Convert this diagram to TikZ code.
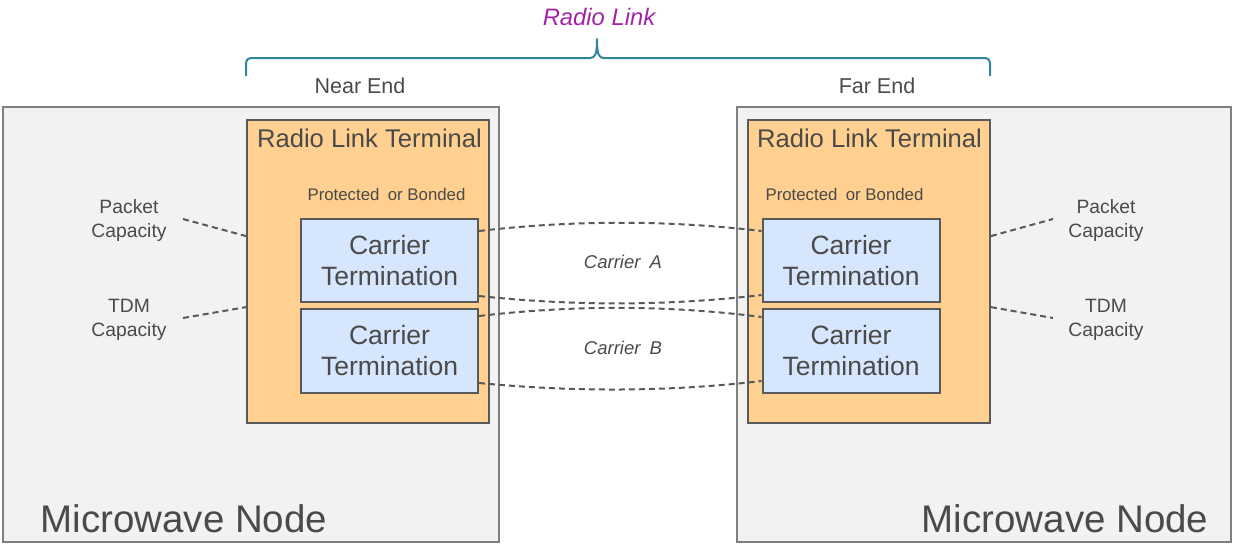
\documentclass[tikz,border=0pt]{standalone}
\usepackage{fontspec}
\setmainfont{Liberation Sans}
\usetikzlibrary{calc}
\definecolor{nodefill}{HTML}{F2F2F2}
\definecolor{nodeedge}{HTML}{7F7F7F}
\definecolor{edgec}{HTML}{595959}
\definecolor{rltfill}{HTML}{FFD08F}
\definecolor{ctfill}{HTML}{D6E6FD}
\definecolor{bracec}{HTML}{31859C}
\definecolor{linkc}{HTML}{A323A8}
\definecolor{txt}{HTML}{4A4A4A}
\definecolor{dashc}{HTML}{595959}

\tikzset{
  mwnode/.style={draw=nodeedge, fill=nodefill, line width=1.8pt, inner sep=0pt,
                 minimum width=#1, minimum height=435pt},
  rltbox/.style={draw=edgec, fill=rltfill, line width=1.8pt, inner sep=0pt,
                 minimum width=242pt, minimum height=303pt},
  ctbox/.style={draw=edgec, fill=ctfill, line width=2pt, inner sep=0pt,
                minimum width=177pt, minimum height=#1, align=center, text=txt,
                font=\fontsize{26.5}{31}\selectfont},
  conn/.style={draw=dashc, line width=2pt, dash pattern=on 6pt off 4pt},
  caplbl/.style={text=txt, align=center, font=\fontsize{19.3}{24}\selectfont},
  carrier/.style={text=txt, font=\fontsize{18.5}{22}\selectfont\itshape, anchor=base},
  endlbl/.style={text=txt, font=\fontsize{21.5}{25}\selectfont, anchor=base},
  rltlbl/.style={text=txt, font=\fontsize{25.6}{30}\selectfont, anchor=base},
  pblbl/.style={text=txt, font=\fontsize{16.8}{20}\selectfont, anchor=base},
  mwlbl/.style={text=txt, font=\fontsize{38.5}{44}\selectfont},
  bracepath/.style={draw=bracec, line width=2pt, line join=round}
}

\begin{document}
\begin{tikzpicture}[x=1pt, y=-1pt]
\useasboundingbox (0,0) rectangle (1234,544);

% microwave nodes
\node[mwnode=496pt] (mwL) at (251,324.5) {};
\node[mwnode=494pt] (mwR) at (984,324.5) {};

% radio link terminals
\node[rltbox] (rltL) at (368,271.5) {};
\node[rltbox] (rltR) at (869,271.5) {};

\node[rltlbl] (rltLt) at (369.5,147) {Radio Link Terminal};
\node[rltlbl] (rltRt) at (869.5,147) {Radio Link Terminal};

\node[pblbl] (pbL) at (386.5,200) {Protected\enspace or Bonded};
\node[pblbl] (pbR) at (844.5,200) {Protected\enspace or Bonded};

% carrier terminations
\node[ctbox=83pt] (ctLA) at (389.5,260.5) {Carrier\\Termination};
\node[ctbox=84pt] (ctLB) at (389.5,351) {Carrier\\Termination};
\node[ctbox=83pt] (ctRA) at (851,260.5) {Carrier\\Termination};
\node[ctbox=84pt] (ctRB) at (851,351) {Carrier\\Termination};

% capacity labels
\node[caplbl] (pkL) at (129,221) {Packet\\Capacity};
\node[caplbl] (tdmL) at (129,319.5) {TDM\\Capacity};
\node[caplbl] (pkR) at (1106,221) {Packet\\Capacity};
\node[caplbl] (tdmR) at (1106,319.5) {TDM\\Capacity};

\coordinate (pkLe) at (183,219);
\coordinate (tdmLe) at (183,318);
\coordinate (pkRe) at (1053,219);
\coordinate (tdmRe) at (1053,318);

\draw[conn] (pkLe) -- ($(rltL.north west)+(0,117)$);
\draw[conn] (tdmLe) -- ($(rltL.north west)+(0,188)$);
\draw[conn] ($(rltR.north east)+(0,117)$) -- (pkRe);
\draw[conn] ($(rltR.north east)+(0,188)$) -- (tdmRe);

% carrier links
\draw[conn] ($(ctLA.north east)+(0,13)$) .. controls (573,220) and (668,220) .. ($(ctRA.north west)+(0,13)$);
\draw[conn] ($(ctLA.south east)+(0,-7)$) .. controls (573,306) and (668,306) .. ($(ctRA.south west)+(0,-8)$);
\draw[conn] ($(ctLB.north east)+(0,8)$) .. controls (573,305) and (668,305) .. ($(ctRB.north west)+(0,9)$);
\draw[conn] ($(ctLB.south east)+(0,-11)$) .. controls (573,392) and (668,392) .. ($(ctRB.south west)+(0,-13)$);

\node[carrier] (carA) at (623,268) {Carrier\enspace A};
\node[carrier] (carB) at (623,354) {Carrier\enspace B};

% ends and the link brace
\node[endlbl] (nearE) at (360,93) {Near End};
\node[endlbl] (farE) at (877,93) {Far End};

\draw[bracepath] (246,76) -- (246,64) .. controls (246,60) and (248,58) .. (252,58)
  -- (590,58) .. controls (595,58) and (597,55) .. (597,39)
  .. controls (597,55) and (599,58) .. (604,58)
  -- (984,58) .. controls (988,58) and (990,60) .. (990,64) -- (990,76);

\node[text=linkc, font=\fontsize{23.8}{28}\selectfont\itshape, anchor=base] (rlink) at (599,25) {Radio Link};

% node titles
\node[mwlbl, anchor=base west] (mwLt) at (37,532) {Microwave Node};
\node[mwlbl, anchor=base east] (mwRt) at (1212,532) {Microwave Node};
\end{tikzpicture}
\end{document}
